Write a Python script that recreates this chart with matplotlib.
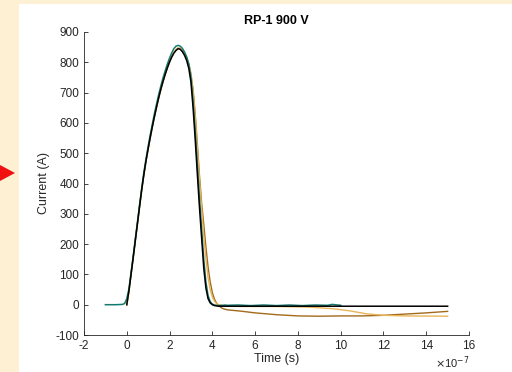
import matplotlib
matplotlib.use("Agg")
import matplotlib.pyplot as plt
from matplotlib.patches import Polygon, Rectangle

plt.rcParams["font.family"] = ["Liberation Sans", "DejaVu Sans"]
plt.rcParams["axes.unicode_minus"] = False

# time in units of 1e-7 s, current in A
pulse_t = [0.0, 0.1, 0.2, 0.3, 0.4, 0.5, 0.6, 0.7, 0.8, 0.9, 1.0, 1.1, 1.2, 1.3, 1.4, 1.5,
           1.6, 1.7, 1.8, 1.9, 2.0, 2.1, 2.2, 2.3, 2.4, 2.5, 2.6, 2.7, 2.8, 2.9, 3.0, 3.1,
           3.2, 3.3, 3.4, 3.5, 3.6, 3.7, 3.8, 3.9, 4.0, 4.1, 4.2, 4.3, 4.4, 4.5, 4.6, 4.7]

black_i = [0, 45, 100, 155, 212, 268, 325, 380, 430, 475, 515, 553, 589, 623, 655, 685,
           713, 738, 761, 782, 801, 817, 830, 839, 845, 843, 835, 823, 806, 780, 735, 650,
           545, 430, 320, 220, 120, 55, 20, 6, 0, -3, -4, -5, -5, -5, -5, -5]
black_tail_t = [6.0, 10.0, 15.0]
black_tail_i = [-5, -5, -5]

teal_pre_t = [-1.0, -0.5, -0.2, -0.1, -0.05]
teal_pre_i = [0, 0, 1, 4, 12]
teal_i = [20, 52, 106, 161, 218, 274, 331, 386, 437, 482, 523, 562, 598, 633, 665, 696,
          724, 750, 773, 795, 814, 831, 845, 853, 856, 853, 846, 834, 818, 794, 752, 672,
          572, 460, 350, 250, 150, 75, 30, 10, 2, -1, -2, -3, -2, -2, -1, -2]
teal_tail_t = [5.2, 5.8, 6.4, 7.0, 7.6, 8.2, 8.8, 9.4, 9.6, 10.0]
teal_tail_i = [-1, -3, -1, -3, -1, -3, -1, -2, 1, -2]

gold_i = [0, 45, 100, 155, 212, 268, 325, 380, 430, 475, 515, 553, 589, 623, 655, 685,
          713, 738, 762, 783, 802, 819, 833, 842, 848, 846, 840, 830, 816, 796, 765, 705,
          620, 515, 410, 320, 225, 150, 90, 50, 25, 11, 4, 0, -2, -3, -4, -5]
gold_tail_t = [5.5, 7.0, 8.5, 9.6, 10.4, 11.2, 12.0, 13.0, 15.0]
gold_tail_i = [-6, -6, -8, -13, -20, -30, -35, -37, -38]

brown_i = [0, 45, 100, 155, 212, 268, 325, 380, 430, 475, 515, 553, 589, 623, 655, 685,
           713, 738, 762, 783, 802, 818, 831, 840, 846, 844, 838, 828, 814, 793, 760, 710,
           630, 530, 425, 335, 265, 190, 125, 75, 40, 18, 5, -3, -9, -13, -15, -17]
brown_tail_t = [5.3, 6.0, 7.0, 8.0, 9.0, 10.0, 11.0, 12.0, 13.0, 14.0, 15.0]
brown_tail_i = [-21, -27, -33, -37, -38, -37, -37, -35, -31, -27, -22]

x_ticks = [-2, 0, 2, 4, 6, 8, 10, 12, 14, 16]
y_ticks = [-100, 0, 100, 200, 300, 400, 500, 600, 700, 800, 900]

fig = plt.figure(figsize=(5.12, 3.72), dpi=100)
fig.patch.set_facecolor("#fdf0d3")
fig.patches.append(Rectangle((19 / 512, 0), 1, 368 / 372, transform=fig.transFigure,
                             facecolor="white", edgecolor="none", zorder=-2))
fig.patches.append(Polygon([(0, 1 - 165 / 372), (15 / 512, 1 - 173 / 372), (0, 1 - 181 / 372)],
                           closed=True, transform=fig.transFigure,
                           facecolor="#f01010", edgecolor="none", zorder=-1))

ax = fig.add_axes([84 / 512, 37 / 372, 385 / 512, 303 / 372])
ax.set_facecolor("none")

ax.plot(pulse_t + brown_tail_t, brown_i + brown_tail_i, color="#a36a1c", lw=1.0)
ax.plot(pulse_t + gold_tail_t, gold_i + gold_tail_i, color="#e9b45a", lw=1.0)
ax.plot(teal_pre_t + pulse_t + teal_tail_t, teal_pre_i + teal_i + teal_tail_i,
        color="#16796f", lw=1.1)
ax.plot(pulse_t + black_tail_t, black_i + black_tail_i, color="black", lw=1.1)

ax.set_xlim(-2, 16)
ax.set_ylim(-100, 900)
ax.set_xticks(x_ticks)
ax.set_yticks(y_ticks)
ax.tick_params(direction="in", length=3, width=0.6, labelsize=8.5, colors="#262626")
for side in ("top", "right"):
    ax.spines[side].set_visible(False)
for side in ("left", "bottom"):
    ax.spines[side].set_color("#262626")
    ax.spines[side].set_linewidth(0.6)

ax.set_title("RP-1 900 V", fontsize=9, fontweight="bold", color="black", pad=6)
ax.set_xlabel("Time (s)", fontsize=9, color="#262626", labelpad=1)
ax.set_ylabel("Current (A)", fontsize=9, color="#262626", labelpad=4)
fig.text(470 / 512, 1 / 372, r"$\times$10$^{-7}$", ha="right", va="bottom",
         fontsize=8, color="#262626")

fig.savefig("out.png", dpi=100, facecolor=fig.get_facecolor())
